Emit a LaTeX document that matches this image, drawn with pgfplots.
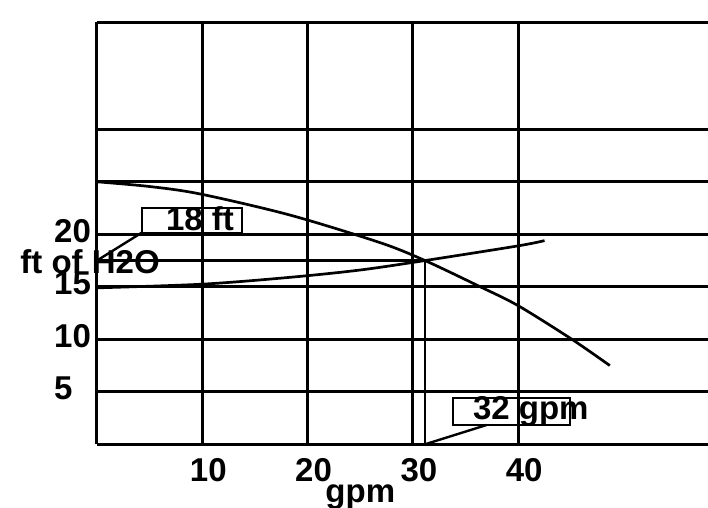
\documentclass[border=0pt]{standalone}
\usepackage{fontspec}
\setmainfont{Liberation Sans}
\usepackage{pgfplots}
\pgfplotsset{compat=1.18}
\begin{document}
\begin{tikzpicture}[font=\fontsize{33bp}{38bp}\selectfont\bfseries]
\begin{axis}[
 x=10.53bp, y=10.5bp,
 xmin=0, xmax=58.02, ymin=0, ymax=40.2,
 axis x line*=bottom, axis y line*=left,
 axis line style={line width=3bp, black},
 xtick={10,20,30,40}, ytick={5,10,15,20},
 extra y ticks={25,30,40.2}, extra y tick labels={},
 extra y tick style={grid=major},
 grid=major, major grid style={line width=3bp, black},
 major tick length=0pt,
 /pgf/number format/assume math mode=true,
 ticklabel style={font=\fontsize{33bp}{38bp}\selectfont\bfseries, inner sep=0pt},
 xticklabel style={anchor=north, yshift=-14bp, xshift=6bp},
 yticklabel style={anchor=west, xshift=-43bp, yshift=3bp},
 xlabel={gpm}, ylabel={ft of H2O},
 label style={font=\fontsize{33bp}{38bp}\selectfont\bfseries, inner sep=0pt},
 xlabel style={at={(axis description cs:0.4309,-0.1368)}, anchor=base},
 ylabel style={at={(axis description cs:-0.01138,0.4055)}, anchor=base, rotate=-90},
 clip=false,
]
\addplot[line width=2.7bp, smooth, black] coordinates {
 (0,25.0) (5,24.55) (9.8,23.84) (18.3,21.84) (26.9,19.2) (31.15,17.5)
 (36.4,15.0) (40,13.2) (45.1,10.0) (48.7,7.5)};
\addplot[line width=2.7bp, smooth, black] coordinates {
 (0,14.9) (10,15.25) (18.3,15.9) (25,16.6) (31.15,17.5) (40,18.9) (42.5,19.4)};
\addplot[line width=2.8bp, black] coordinates {(0,17.5) (31.15,17.5)};
\addplot[line width=2.8bp, black] coordinates {(31.15,0) (31.15,17.5)};
\draw[line width=2bp] (axis cs:4.24,20.15) rectangle (axis cs:13.74,22.53);
\draw[line width=2.4bp] (axis cs:4.24,20.15) -- (axis cs:0,17.5);
\node[anchor=base, inner sep=0pt] at (axis cs:9.78,20.4) {18 ft};
\draw[line width=2bp] (axis cs:33.84,1.84) rectangle (axis cs:44.9,4.38);
\draw[line width=2.4bp] (axis cs:37.0,1.84) -- (axis cs:31.15,0);
\node[anchor=base, inner sep=0pt] at (axis cs:41.2,2.38) {32 gpm};
\end{axis}
\pgfresetboundingbox
\path[use as bounding box] (-97bp,-63.7bp) rectangle (611bp,444.3bp);
\end{tikzpicture}
\end{document}
